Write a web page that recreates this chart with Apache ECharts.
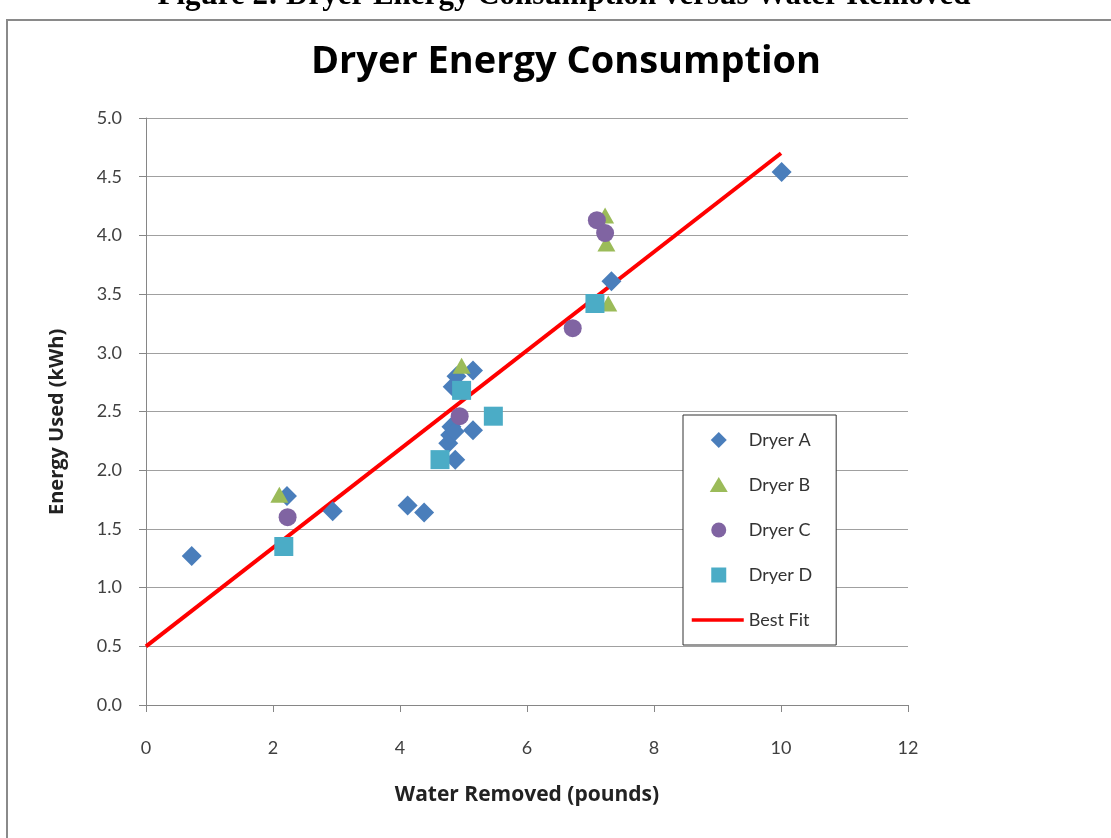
<!DOCTYPE html>
<html>
<head>
<meta charset="utf-8">
<script src="https://cdn.jsdelivr.net/npm/echarts@6/dist/echarts.min.js"></script>
<style>
  html, body { margin: 0; padding: 0; background: #ffffff; }
  #chart { width: 1111px; height: 838px; }
</style>
</head>
<body>
<div id="chart"></div>
<script>
// ---- Data ----
const dryerAWater  = [0.72, 2.22, 2.94, 4.12, 4.38, 4.87, 4.76, 4.79, 4.81, 4.86, 5.15, 4.83, 4.89, 5.15, 7.33, 10.01];
const dryerAEnergy = [1.27, 1.78, 1.65, 1.70, 1.64, 2.09, 2.23, 2.30, 2.37, 2.33, 2.34, 2.71, 2.80, 2.85, 3.61, 4.54];

const dryerBWater  = [2.10, 4.97, 7.23, 7.25, 7.28];
const dryerBEnergy = [1.79, 2.89, 4.17, 3.93, 3.42];

const dryerCWater  = [2.23, 4.94, 6.72, 7.10, 7.23];
const dryerCEnergy = [1.60, 2.46, 3.21, 4.13, 4.02];

const dryerDWater  = [2.17, 4.63, 4.97, 5.47, 7.07];
const dryerDEnergy = [1.35, 2.09, 2.68, 2.46, 3.42];

const bestFitWater  = [0, 10];
const bestFitEnergy = [0.5, 4.7];

const seriesNames = ['Dryer A', 'Dryer B', 'Dryer C', 'Dryer D', 'Best Fit'];
const chartTitle = 'Dryer Energy Consumption';
const captionText = 'Figure 2: Dryer Energy Consumption versus Water Removed';
const xAxisName = 'Water Removed (pounds)';
const yAxisName = 'Energy Used (kWh)';

function zip(xs, ys) { return xs.map((x, i) => [x, ys[i]]); }

const FONT = 'Lato, "Open Sans", "DejaVu Sans", sans-serif';
const FONT_WIDE = '"Open Sans", Lato, "DejaVu Sans", sans-serif';

// Legend icon shapes (52x16 box, shape drawn near the middle, like the reference legend)
const BOX = 'M0,0 M52,16 ';
const legendIcons = {
  'Dryer A': 'path://' + BOX + 'M27,0 L35,8 L27,16 L19,8 Z',
  'Dryer B': 'path://' + BOX + 'M27,0 L36,15 L18,15 Z',
  'Dryer C': 'path://' + BOX + 'M19.5,8 A7.5,7.5 0 1,0 34.5,8 A7.5,7.5 0 1,0 19.5,8 Z',
  'Dryer D': 'path://' + BOX + 'M19.5,0.5 L34.5,0.5 L34.5,15.5 L19.5,15.5 Z'
};

const chart = echarts.init(document.getElementById('chart'), null, { renderer: 'canvas' });

const legendData = seriesNames.map(n => n === 'Best Fit'
  ? { name: n, itemStyle: { opacity: 0 }, lineStyle: { width: 3.5, color: '#ff0000' } }
  : { name: n, icon: legendIcons[n] });

chart.setOption({
  backgroundColor: '#ffffff',
  animation: false,
  graphic: [
    {
      type: 'rect',
      shape: { x: 7, y: 20, width: 1130, height: 840 },
      style: { fill: 'none', stroke: '#8a8a8a', lineWidth: 2 },
      silent: true
    },
    {
      type: 'text',
      style: {
        text: captionText,
        x: 564, y: -4,
        font: 'bold 31px "Liberation Serif", "DejaVu Serif", serif',
        fill: '#000000',
        textAlign: 'center',
        textVerticalAlign: 'middle'
      },
      silent: true
    },
    {
      type: 'text',
      style: {
        text: chartTitle,
        x: 566, y: 62,
        font: 'bold 38px ' + FONT_WIDE,
        fill: '#000000',
        textAlign: 'center',
        textVerticalAlign: 'middle'
      },
      silent: true
    }
  ],
  grid: { left: 146, right: 203, top: 118, bottom: 133, containLabel: false },
  legend: {
    data: legendData,
    orient: 'vertical',
    left: 683,
    top: 415,
    padding: [16, 24, 16, 7],
    itemGap: 27,
    itemWidth: 52,
    itemHeight: 16,
    symbolKeepAspect: true,
    backgroundColor: '#ffffff',
    borderColor: '#333333',
    borderWidth: 1,
    borderRadius: 0,
    textStyle: { fontFamily: FONT, fontSize: 18, color: '#333333' }
  },
  xAxis: {
    type: 'value',
    min: 0, max: 12, interval: 2,
    name: xAxisName,
    nameLocation: 'middle',
    nameGap: 80,
    nameTextStyle: { fontFamily: FONT_WIDE, fontSize: 21, fontWeight: 'bold', color: '#222222' },
    axisLine: { show: true, onZero: false, lineStyle: { color: '#868686', width: 1 } },
    axisTick: { show: true, inside: false, length: 7, lineStyle: { color: '#868686' } },
    axisLabel: { fontFamily: FONT, fontSize: 18, color: '#404040', margin: 34 },
    splitLine: { show: false }
  },
  yAxis: {
    type: 'value',
    min: 0, max: 5, interval: 0.5,
    name: yAxisName + '    ',
    nameLocation: 'middle',
    nameGap: 79,
    nameRotate: 90,
    nameTextStyle: { fontFamily: FONT_WIDE, fontSize: 20, fontWeight: 'bold', color: '#222222' },
    axisLine: { show: true, onZero: false, lineStyle: { color: '#868686', width: 1 } },
    axisTick: { show: true, inside: false, length: 7, lineStyle: { color: '#868686' } },
    axisLabel: {
      fontFamily: FONT, fontSize: 18, color: '#404040', margin: 24,
      formatter: v => v.toFixed(1)
    },
    splitLine: { show: true, lineStyle: { color: '#a0a0a0', width: 1 } }
  },
  series: [
    {
      name: 'Best Fit',
      type: 'line',
      data: zip(bestFitWater, bestFitEnergy),
      symbol: 'none',
      showSymbol: false,
      lineStyle: { color: '#ff0000', width: 4 },
      itemStyle: { color: '#ff0000' },
      z: 1
    },
    {
      name: 'Dryer A',
      type: 'scatter',
      data: zip(dryerAWater, dryerAEnergy),
      symbol: 'diamond',
      symbolSize: 20,
      itemStyle: { color: '#4a7ebb', opacity: 1 },
      z: 2
    },
    {
      name: 'Dryer B',
      type: 'scatter',
      data: zip(dryerBWater, dryerBEnergy),
      symbol: 'triangle',
      symbolSize: [18, 16],
      itemStyle: { color: '#9bbb59', opacity: 1 },
      z: 3
    },
    {
      name: 'Dryer C',
      type: 'scatter',
      data: zip(dryerCWater, dryerCEnergy),
      symbol: 'circle',
      symbolSize: 18,
      itemStyle: { color: '#8064a2', opacity: 1 },
      z: 4
    },
    {
      name: 'Dryer D',
      type: 'scatter',
      data: zip(dryerDWater, dryerDEnergy),
      symbol: 'rect',
      symbolSize: 19,
      itemStyle: { color: '#4bacc6', opacity: 1 },
      z: 5
    }
  ]
});
</script>
</body>
</html>
